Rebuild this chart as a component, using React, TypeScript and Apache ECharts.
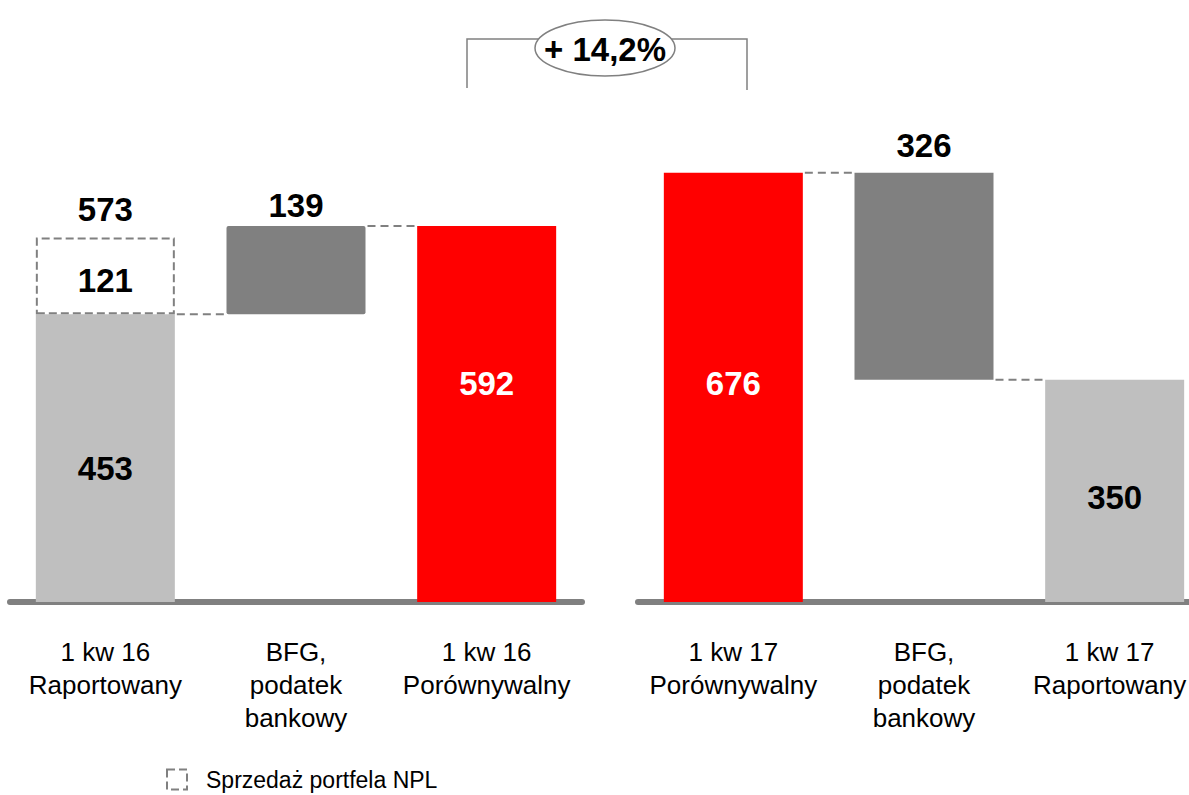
import React, { useEffect, useRef } from "react";
import * as echarts from "echarts";

const leftCategories = ["1 kw 16\nRaportowany", "BFG,\npodatek\nbankowy", "1 kw 16\nPorównywalny"];
const rightCategories = ["1 kw 17\nPorównywalny", "BFG,\npodatek\nbankowy", "1 kw 17\nRaportowany"];

// Left panel (1 kw 16)
const leftReported = [453, "-", "-"];
const leftNplSale = [121, "-", "-"];
const leftTotalLabel = ["573", "", ""];
const leftBase = ["-", 453, "-"];
const leftBfg = ["-", 139, "-"];
const leftComparable = ["-", "-", 592];

// Right panel (1 kw 17)
const rightComparable = [676, "-", "-"];
const rightBase = ["-", 350, "-"];
const rightBfg = ["-", 326, "-"];
const rightReported = ["-", "-", 350];

const growthLabel = "+ 14,2%";
const legendName = "Sprzedaż portfela NPL";

const FONT = '"Liberation Sans", Arial, Helvetica, sans-serif';
const LIGHT = "#bfbfbf";
const DARK = "#808080";
const RED = "#ff0000";
const BW = 139;

const numLabel = (color: string, extra: any = {}) => ({
  show: true,
  color,
  fontFamily: FONT,
  fontWeight: "bold",
  fontSize: 33,
  ...extra,
});

export default function App() {
  const ref = useRef<HTMLDivElement>(null);

  useEffect(() => {
    if (!ref.current) return;
    const chart = echarts.init(ref.current, null, { renderer: "svg" });

    const xAxisBase = {
      type: "category",
      axisTick: { show: false },
      axisLine: { lineStyle: { color: DARK, width: 6 } },
      offset: 3,
      axisLabel: {
        color: "#000",
        fontFamily: FONT,
        fontSize: 26,
        lineHeight: 33,
        margin: 30,
        interval: 0,
      },
    };
    const yAxisBase = {
      type: "value",
      min: 0,
      max: 800,
      show: false,
      splitLine: { show: false },
    };

    const rightAxisData = rightCategories.map((c, i) =>
      i === rightCategories.length - 1 ? { value: c, textStyle: { padding: [0, 10, 0, 0] } } : c
    );

    const option: any = {
      animation: false,
      backgroundColor: "#fff",
      grid: [
        { left: 10, width: 572, top: 94, bottom: 193 },
        { left: 638, width: 572, top: 94, bottom: 193 },
      ],
      xAxis: [
        { ...xAxisBase, gridIndex: 0, data: leftCategories },
        { ...xAxisBase, gridIndex: 1, data: rightAxisData },
      ],
      yAxis: [
        { ...yAxisBase, gridIndex: 0 },
        { ...yAxisBase, gridIndex: 1 },
      ],
      legend: {
        data: [legendName],
        left: 166,
        top: 768,
        padding: 0,
        icon: "rect",
        itemWidth: 20,
        itemHeight: 20,
        selectedMode: false,
        itemStyle: { color: "#fff", borderColor: DARK, borderWidth: 2, borderType: "dashed" },
        textStyle: { color: "#000", fontFamily: FONT, fontSize: 23, padding: [0, 0, 0, 14] },
      },
      series: [
        {
          type: "bar", name: "l_rep", xAxisIndex: 0, yAxisIndex: 0, stack: "L", barWidth: BW,
          data: leftReported, itemStyle: { color: LIGHT },
          label: numLabel("#000", { position: "inside", offset: [0, 10] }),
        },
        {
          type: "bar", name: legendName, xAxisIndex: 0, yAxisIndex: 0, stack: "L",
          data: leftNplSale,
          itemStyle: { color: "rgba(255,255,255,0)", borderColor: DARK, borderWidth: 2, borderType: "dashed" },
          label: numLabel("#000", { position: "inside", offset: [0, 5] }),
        },
        {
          type: "bar", name: "l_tot", xAxisIndex: 0, yAxisIndex: 0, stack: "L",
          data: [0, "-", "-"], itemStyle: { color: "rgba(0,0,0,0)" },
          label: numLabel("#000", {
            position: "top", distance: 12,
            formatter: (p: any) => leftTotalLabel[p.dataIndex],
          }),
        },
        {
          type: "bar", name: "l_base", xAxisIndex: 0, yAxisIndex: 0, stack: "L",
          data: leftBase, itemStyle: { color: "rgba(0,0,0,0)" },
        },
        {
          type: "bar", name: "l_bfg", xAxisIndex: 0, yAxisIndex: 0, stack: "L",
          data: leftBfg, itemStyle: { color: DARK, borderRadius: 2 },
          label: numLabel("#000", { position: "top", distance: 4 }),
        },
        {
          type: "bar", name: "l_cmp", xAxisIndex: 0, yAxisIndex: 0, stack: "L",
          data: leftComparable, itemStyle: { color: RED },
          label: numLabel("#fff", { position: "inside", offset: [0, -31] }),
        },
        {
          type: "bar", name: "r_cmp", xAxisIndex: 1, yAxisIndex: 1, stack: "R", barWidth: BW,
          data: rightComparable, itemStyle: { color: RED },
          label: numLabel("#fff", { position: "inside", offset: [0, -4] }),
        },
        {
          type: "bar", name: "r_base", xAxisIndex: 1, yAxisIndex: 1, stack: "R",
          data: rightBase, itemStyle: { color: "rgba(0,0,0,0)" },
        },
        {
          type: "bar", name: "r_bfg", xAxisIndex: 1, yAxisIndex: 1, stack: "R",
          data: rightBfg, itemStyle: { color: DARK },
          label: numLabel("#000", { position: "top", distance: 11 }),
        },
        {
          type: "bar", name: "r_rep", xAxisIndex: 1, yAxisIndex: 1, stack: "R",
          data: rightReported, itemStyle: { color: LIGHT },
          label: numLabel("#000", { position: "inside", offset: [0, 7] }),
        },
      ],
    };

    chart.setOption(option);

    const px = (g: number, c: number, v: number) =>
      chart.convertToPixel({ xAxisIndex: g, yAxisIndex: g } as any, [c, v]) as number[];

    const connectors: [number, number, number][] = [
      [0, 0, leftReported[0] as number],
      [0, 1, (leftBase[1] as number) + (leftBfg[1] as number)],
      [1, 0, rightComparable[0] as number],
      [1, 1, rightBase[1] as number],
    ];
    const lines = connectors.map(([g, c, v]) => {
      const a = px(g, c, v);
      const b = px(g, c + 1, v);
      return {
        type: "line",
        shape: { x1: a[0] + BW / 2 + 2, y1: a[1], x2: b[0] - BW / 2 - 2, y2: b[1] },
        style: { stroke: DARK, lineWidth: 2, lineDash: [8, 5] },
        z: 10,
      };
    });

    chart.setOption({
      graphic: [
        ...lines,
        {
          type: "polyline",
          shape: { points: [[467, 88], [467, 39], [747, 39], [747, 90]] },
          style: { stroke: DARK, lineWidth: 1.5, fill: null },
          z: 10,
        },
        {
          type: "ellipse",
          shape: { cx: 605, cy: 48, rx: 70, ry: 28 },
          style: { fill: "#fff", stroke: DARK, lineWidth: 1.5 },
          z: 11,
        },
        {
          type: "text",
          x: 605,
          y: 49,
          style: {
            text: growthLabel,
            fill: "#000",
            font: `bold 33px ${FONT}`,
            align: "center",
            verticalAlign: "middle",
          },
          z: 12,
        },
      ],
    });

    return () => chart.dispose();
  }, []);

  return (
    <div
      ref={ref}
      style={{ position: "fixed", left: 0, top: 0, width: 1215, height: 795, background: "#fff" }}
    />
  );
}
